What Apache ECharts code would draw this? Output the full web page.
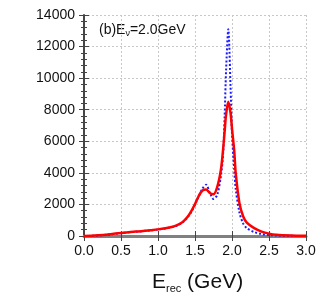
<!DOCTYPE html>
<html><head><meta charset="utf-8">
<script src="https://cdn.jsdelivr.net/npm/echarts@6/dist/echarts.min.js"></script>
<style>html,body{margin:0;padding:0;background:#fff}#c{width:319px;height:295px}</style>
</head><body><div id="c"></div>
<script>
const xVals = [0,0.1,0.2,0.3,0.4,0.5,0.6,0.7,0.8,0.9,1.0,1.1,1.2,1.25,1.3,1.35,1.4,1.45,1.5,1.55,1.6,1.65,1.7,1.75,1.8,1.85,1.88,1.9,1.92,1.95,1.98,2.0,2.03,2.05,2.1,2.15,2.2,2.3,2.4,2.5,2.6,2.8,3.0];
const redVals = [0,10,40,80,140,190,240,280,320,370,420,490,590,670,780,960,1220,1580,2030,2530,2880,2950,2720,2650,3100,4200,5500,6600,7700,8500,7800,6800,5400,4000,2100,1250,850,500,280,150,80,30,10];
const blueVals = [0,8,35,75,130,180,230,270,310,360,410,480,580,650,760,940,1180,1520,1980,2500,3000,3250,2750,2350,2600,3800,5200,7500,10500,13100,9500,6500,4200,3000,1500,800,500,250,130,60,30,10,5];
const xTicks = ['0.0','0.5','1.0','1.5','2.0','2.5','3.0'];
const yTicks = ['0','2000','4000','6000','8000','10000','12000','14000'];

const pair = (xs, ys) => xs.map((x, i) => [x, ys[i]]);
const chart = echarts.init(document.getElementById('c'));
const font = 'Liberation Sans, Arial, sans-serif';
chart.setOption({
  animation: false,
  grid: {left: 84, right: 13, top: 15, bottom: 59},
  xAxis: [{
    type: 'value', min: 0, max: 3, interval: 0.5, position: 'bottom',
    axisLine: {show: true, lineStyle: {color: '#808080', width: 3}},
    axisTick: {inside: true, length: 5, lineStyle: {color: '#444'}},
    axisLabel: {color: '#111', fontSize: 14, fontFamily: font, margin: 8,
      formatter: v => xTicks[Math.round(v / 0.5)]},
    splitLine: {show: true, lineStyle: {color: '#c8c8c8', type: [2, 2], width: 1}}
  }, {
    type: 'value', min: 0, max: 3, interval: 0.5, position: 'top',
    axisLine: {show: true, lineStyle: {color: '#808080', width: 2}},
    axisTick: {inside: true, length: 5, lineStyle: {color: '#444'}},
    axisLabel: {show: false}, splitLine: {show: false}
  }],
  yAxis: [{
    type: 'value', min: 0, max: 14000, interval: 2000, position: 'left',
    axisLine: {show: true, lineStyle: {color: '#808080', width: 2}},
    axisTick: {inside: true, length: 5, lineStyle: {color: '#444'}},
    minorTick: {show: true, splitNumber: 5, length: 3, lineStyle: {color: '#444'}},
    axisLabel: {color: '#111', fontSize: 14, fontFamily: font, margin: 9,
      formatter: v => yTicks[Math.round(v / 2000)]},
    splitLine: {show: true, lineStyle: {color: '#c8c8c8', type: [2, 2], width: 1}}
  }, {
    type: 'value', min: 0, max: 14000, interval: 2000, position: 'right',
    axisLine: {show: true, lineStyle: {color: '#333', width: 1.5}},
    axisTick: {inside: true, length: 5, lineStyle: {color: '#444'}},
    minorTick: {show: true, splitNumber: 5, length: 3, lineStyle: {color: '#444'}},
    axisLabel: {show: false}, splitLine: {show: false}
  }],
  series: [{
    type: 'line', data: pair(xVals, blueVals), showSymbol: false, smooth: 0.3,
    lineStyle: {color: '#1a1aff', width: 2, type: [2, 2]}, z: 3
  }, {
    type: 'line', data: pair(xVals, redVals), showSymbol: false, smooth: 0.3,
    lineStyle: {color: '#ff0000', width: 2.5}, z: 4
  }],
  graphic: [{
    type: 'text', left: 99, top: 23,
    style: {
      text: '(b)E{s|ν}=2.0GeV', fill: '#111', font: '14px ' + font,
      rich: {s: {fontSize: 9, fontFamily: font, padding: [8, 0, 0, 0], fill: '#111'}}
    }
  }, {
    type: 'text', left: 152, top: 272,
    style: {
      text: 'E{s|rec} (GeV)', fill: '#111', font: '21px ' + font,
      rich: {s: {fontSize: 11, fontFamily: font, padding: [12, 0, 0, 0], fill: '#111'}}
    }
  }]
});
</script></body></html>
